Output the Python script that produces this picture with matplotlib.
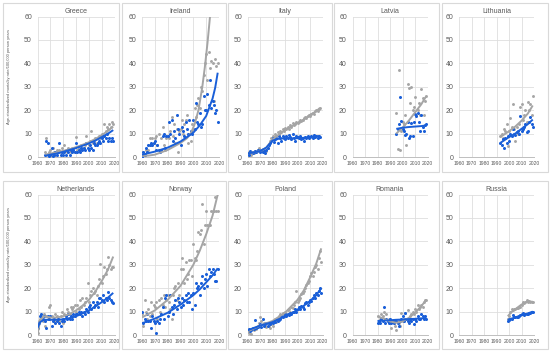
import numpy as np
import matplotlib
matplotlib.use('Agg')
import matplotlib.pyplot as plt
from matplotlib.patches import Rectangle

# ---- data ----
greece_start = 1966
greece_grey = [2, 8, 1, 2, 3, 1, 4, 2, 1, 3, 2, 3, 2, 4, 2, 5, 3, 2, 4, 3, 2, 4, 3, 2, 8.5,
               3, 4, 3, 5, 4, 4, 5, 9, 6, 5, 7, 11, 6, 7, 8, 6, 8, 9, 8, 10, 9, 14, 11, 13,
               12, 14, 13, 15, 14]
greece_blue = [1, 7, 6, 0.5, 1, 4, 0.5, 1, 2, 1, 2, 6, 1, 2, 1, 2, 1, 3, 2, 1, 3, 2, 3, 2, 6,
               2, 3, 2, 4, 3, 4, 3, 6, 4, 3, 5, 4, 3, 6, 5, 5, 6, 7, 6, 8, 7, 9, 8, 10, 7, 8,
               7, 8, 7]
greece_trend_years = [1966, 1970, 1975, 1980, 1985, 1990, 1995, 2000, 2005, 2010, 2015, 2019]
greece_grey_trend = [1, 1.5, 2, 2.6, 3.3, 4.2, 5.2, 6.3, 7.7, 9.3, 11.2, 13]
greece_blue_trend = [0.5, 1, 1.5, 2.2, 3, 3.8, 4.8, 5.8, 7, 8.5, 10, 11.5]

ireland_start = 1960
ireland_grey = [0, 2, 1, 3, 2, 3, 8, 5, 8, 6, 8, 9, 5, 10, 3, 8, 13, 5, 3, 8, 9, 8, 11, 17, 9,
                14, 6, 12, 2, 11, 12, 16, 10, 14, 16, 18, 6, 10, 7, 14, 12, 21, 17, 22, 25,
                21, 30, 28, 35, 40, 44, 33, 45, 38, 41, 40, 24, 42, 39, 40]
ireland_blue = [0, 2, 1, 4, 2, 5, 5, 6, 5, 6, 7, 3, 5, 3, 2, 3, 9, 10, 4, 9, 9, 15, 10, 16, 7,
                11, 8, 18, 12, 10, 5, 13, 11, 9, 15, 12, 10, 16, 11, 10, 16, 12, 23, 15, 14,
                19, 13, 14, 26, 20, 20, 27, 22, 33, 21, 24, 22, 19, 20, 15]
ireland_grey_trend_years = [1960, 1965, 1970, 1975, 1980, 1985, 1990, 1995, 1998, 2001, 2004,
                            2007, 2009, 2011, 2013]
ireland_grey_trend = [0.5, 0.6, 1, 2, 3, 4.5, 6, 8, 10, 14, 20, 30, 38.5, 48.5, 60]
ireland_blue_trend_years = [1960, 1970, 1980, 1990, 2000, 2005, 2010, 2015, 2017, 2019]
ireland_blue_trend = [1, 2.3, 4, 6.6, 10.4, 13.5, 17.5, 25, 29.5, 36]

italy_start = 1960
italy_grey = [1, 2, 1.5, 1, 2, 1.5, 2.5, 2, 3, 4, 3, 2.5, 3.5, 3, 2, 2.5, 4, 5.5, 7, 8, 9, 8.5,
              10, 9, 10.5, 10, 11, 10.5, 12, 11, 12.5, 12, 13, 12, 13.5, 13, 14.5, 13.5, 14, 15,
              14.5, 15, 16, 15.5, 16, 16.5, 17, 16.5, 17.5, 18, 17.5, 18.5, 19, 18.5, 19.5, 20,
              19.5, 20.5, 21]
italy_blue = [1.5, 1, 2.5, 2, 1.5, 2, 2.5, 2, 3, 2.5, 2, 3, 2, 2.5, 1.5, 3, 4, 5, 6, 7, 8, 6.5,
              7.5, 8, 6, 9, 8, 7, 9, 8, 7.5, 9, 8, 9.5, 8.5, 7.5, 10, 8, 7, 9, 8.5, 8, 9, 7.5,
              8, 7, 8.5, 8, 9, 8, 8.5, 9, 8, 9.5, 8.5, 9, 8, 9, 8.5]
italy_trend_years = [1960, 1965, 1970, 1975, 1980, 1985, 1990, 1995, 2000, 2005, 2010, 2015, 2018]
italy_grey_trend = [1.5, 2, 2.5, 4, 7.5, 9.5, 11.5, 13, 14.5, 16, 18, 19.5, 21]
italy_blue_trend = [1.5, 2, 2.5, 4, 7, 7.8, 8, 8, 8, 8.2, 8.5, 8.8, 9]

latvia_start = 1995
latvia_grey = [19, 3.5, 37, 3, 11, 15, 14, 18, 5, 31, 29.5, 23, 30, 20, 21.5, 25.5, 18, 20,
               23, 18, 29, 25, 18, 24, 26]
latvia_blue = [10, 12, 14, 25.5, 15.5, 12, 11, 9.5, 10, 15, 8, 9, 14.5, 9, 15, 18.5, 17.5, 19,
               15, 11, 18, 13, 11, 13.5, 14]
latvia_trend_years = [1995, 2000, 2005, 2010, 2015, 2019]
latvia_grey_trend = [10, 12.5, 15.5, 19, 22.5, 26]
latvia_blue_trend = [12, 12.5, 12.8, 13, 13.2, 13.5]

lithuania_start = 1993
lithuania_grey = [9, 10, 8, 12, 11, 14, 4.5, 11, 16.5, 13, 22.5, 12, 7, 13, 10, 14, 21.5, 22.5,
                  16, 18, 20, 15, 23.5, 20, 22.5, 18, 26]
lithuania_blue = [6, 5, 7.5, 4, 8, 6, 9, 7, 10, 9, 12, 10, 9.5, 10.5, 11, 10, 17.5, 11, 12, 13,
                  14, 10.5, 11, 15, 17, 14, 13]
lithuania_trend_years = [1993, 2000, 2005, 2010, 2015, 2019]
lithuania_grey_trend = [8.5, 11, 13, 15.5, 18.5, 22]
lithuania_blue_trend = [6, 8.5, 10, 12, 14, 16]

netherlands_start = 1960
netherlands_grey = [1, 6, 7, 8, 6, 9, 4, 8, 7, 12, 13, 8, 7, 6, 9, 8, 7, 6, 8, 10, 5, 9, 8, 11,
                    10, 9, 12, 11, 12, 13, 10, 13, 11, 15, 12, 16, 13, 14, 16, 22, 14, 17, 19,
                    20, 18, 19, 17, 21, 24, 30.5, 22, 25, 29, 26, 28, 33.5, 30, 28, 29, 29]
netherlands_blue = [3, 5, 8, 9, 7, 8, 6, 3, 8, 7, 8, 4, 6, 7, 5, 6, 7, 5, 4, 6, 7, 6, 8, 7, 9,
                    7, 8, 7, 9, 8, 9, 9, 10, 9, 10, 8, 10, 9, 11, 10, 12, 13, 11, 14, 12, 13, 14,
                    12, 16, 16, 15, 17, 14, 16, 15, 18.5, 16, 15, 14, 13.5]
netherlands_trend_years = [1960, 1962, 1965, 1970, 1975, 1980, 1985, 1990, 1995, 2000, 2005,
                           2010, 2015, 2019]
netherlands_grey_trend = [0, 6, 8, 7.5, 7.5, 8, 9, 10.5, 12.5, 15, 18.5, 23, 28, 33.5]
netherlands_blue_trend = [3, 5.5, 6.5, 6.5, 6.5, 6.7, 7.2, 8, 9.2, 10.5, 12.2, 14, 16, 18]

norway_start = 1960
norway_grey = [9, 4, 15, 10, 7, 11, 8, 14, 9, 13, 12, 14, 7, 15, 10, 16, 13, 17, 12, 15, 17, 14,
               11, 7, 17, 20, 21, 15, 22, 17, 28, 33, 28, 22, 31, 24, 26, 32, 32, 25, 39, 33,
               32, 36, 44, 43, 45, 56, 39, 47, 53, 47, 47, 47, 53, 53, 53, 59, 53, 53]
norway_blue = [10, 5, 7, 6, 9, 6, 6, 3, 8, 6, 5, 1, 6, 5, 7, 9, 12, 7, 16, 17, 8, 10, 17, 12, 9,
               13, 15, 11, 16, 14, 12, 16, 13, 15, 17, 14, 18, 14, 17, 11, 18, 13, 22, 20, 21,
               17, 22, 25, 20, 24, 26, 21, 28, 25, 27, 28, 26, 23, 23, 28]
norway_trend_years = [1960, 1970, 1980, 1990, 2000, 2005, 2010, 2015, 2019]
norway_grey_trend = [7.5, 10.5, 15, 21, 30, 36, 43, 51, 60]
norway_blue_trend = [5, 7, 9.5, 13, 17, 19.5, 22.5, 25.5, 28.5]

poland_start = 1960
poland_grey = [1.5, 1, 2, 0.5, 2.5, 2, 3, 2.5, 4, 5, 7.5, 6, 4.5, 5, 4, 3.5, 5, 4, 3, 4.5, 4, 6,
               7, 5.5, 7, 8, 9, 8.5, 9.5, 8, 10, 9, 10.5, 11, 10, 12, 11.5, 13, 14, 19, 14, 15,
               16, 17.5, 18, 19, 20, 21.5, 22, 23, 25, 26.5, 25, 27, 29, 30, 28, 33, 36, 31]
poland_blue = [2, 2.5, 1.5, 2, 3, 2.5, 6.5, 3, 3.5, 4, 4.5, 3.5, 7, 4, 4.5, 5, 4, 5, 4.5, 5.5,
               5, 6, 5.5, 7, 6, 6.5, 7, 8, 7.5, 8, 9, 8, 9, 8.5, 9.5, 9, 10, 10, 11, 10, 11, 12,
               11, 12.5, 12, 11, 13.5, 14, 13, 14, 15, 14.5, 16, 17, 16, 18, 17, 19, 20, 18]
poland_trend_years = [1960, 1970, 1980, 1990, 2000, 2005, 2010, 2015, 2019]
poland_grey_trend = [1.5, 4, 6, 9.5, 15, 19, 24.5, 30.5, 37]
poland_blue_trend = [2, 4, 5.5, 8, 10.5, 12.5, 14.5, 17, 20]

romania_start = 1980
romania_grey = [8, 6, 7, 9, 8, 10, 7, 9, 6, 7, 5, 3, 6, 5, 4, 2, 6, 5, 4, 9.5, 6, 7, 9.5, 7,
                10.5, 7, 8, 9, 10, 9, 11, 10, 13, 11, 12, 13, 12, 14, 15, 15]
romania_blue = [5, 6, 5, 7, 6, 12, 5, 7, 6, 5, 7, 5, 6, 5, 6, 6, 5, 4, 6, 7, 8, 6, 9.5, 7, 6, 5,
                7, 6, 7, 4.5, 7, 6, 8, 7, 7, 9, 8, 7, 8, 7]
romania_trend_years = [1980, 1985, 1990, 1995, 2000, 2005, 2010, 2015, 2019]
romania_grey_trend = [8, 7, 5.8, 5.2, 5.8, 7.3, 9.5, 12.3, 15]
romania_blue_trend = [6, 6.1, 6.3, 6.5, 6.6, 6.8, 6.9, 7.1, 7.2]

russia_start = 1999
russia_grey = [7, 8, 10, 11, 10.5, 11, 11, 11.5, 11.5, 12, 12, 13, 14, 13.5, 14, 15, 14, 14.5,
               14, 14, 14]
russia_blue = [6, 6.5, 7, 7, 8.5, 7.5, 7.5, 7.5, 7.5, 8, 8.5, 9, 9.5, 8.5, 9, 9, 9, 9.5, 9.5,
               10, 10]
russia_trend_years = [1999, 2002, 2005, 2010, 2015, 2019]
russia_grey_trend = [8, 9.8, 11, 13, 14.3, 14.2]
russia_blue_trend = [6.5, 7, 7.5, 8.5, 9.2, 10]

ytick_vals = [0, 10, 20, 30, 40, 50, 60]
xtick_vals = [1960, 1970, 1980, 1990, 2000, 2010, 2020]
ylabel_text = 'Age-standardized mortality rate/100,000 person years'

# ---- layout (pixels) ----
W, H = 550, 354
GREY = '#a5a5a5'
BLUE = '#1a5fd8'
TXT = '#595959'

plt.rcParams['font.family'] = ['Liberation Sans', 'DejaVu Sans']

fig = plt.figure(figsize=(W / 100, H / 100), dpi=100)

col_axes = [(37.5, 114.5), (142, 219), (247.5, 322.5), (352.5, 427.5), (459, 534)]
row_axes = [(16.5, 157), (194.5, 335)]
col_box = [(3, 119), (122, 226), (228, 332), (334, 439), (442, 548)]
row_box = [(3, 172), (181, 349)]


def draw_panel(r, c, title, start, grey, blue, ty_grey, g_trend, ty_blue, b_trend):
    bx0, bx1 = col_box[c]
    by0, by1 = row_box[r]
    fig.add_artist(Rectangle((bx0 / W, 1 - by1 / H), (bx1 - bx0) / W, (by1 - by0) / H,
                             transform=fig.transFigure, fill=False, ec='#d9d9d9', lw=0.8))
    x0, x1 = col_axes[c]
    y0, y1 = row_axes[r]
    ax = fig.add_axes([x0 / W, 1 - y1 / H, (x1 - x0) / W, (y1 - y0) / H])
    yrs_g = list(range(start, start + len(grey)))
    yrs_b = list(range(start, start + len(blue)))
    ax.plot(yrs_g, grey, 'o', color=GREY, ms=2.1, mew=0, zorder=3)
    ax.plot(yrs_b, blue, 'o', color=BLUE, ms=2.2, mew=0, zorder=3)
    ax.plot(ty_grey, g_trend, '-', color=GREY, lw=1.4, zorder=4, solid_capstyle='butt')
    ax.plot(ty_blue, b_trend, '-', color=BLUE, lw=1.4, zorder=4, solid_capstyle='butt')
    ax.set_xlim(1960, 2020)
    ax.set_ylim(0, 60)
    ax.set_xticks(xtick_vals)
    ax.set_yticks(ytick_vals)
    ax.grid(True, color='#dedede', lw=0.6)
    ax.set_axisbelow(True)
    for s in ['top', 'right', 'left']:
        ax.spines[s].set_visible(False)
    ax.spines['bottom'].set_color('#bfbfbf')
    ax.spines['bottom'].set_linewidth(0.7)
    ax.tick_params(axis='both', length=0, colors=TXT)
    ax.tick_params(axis='y', labelsize=5, pad=4)
    ax.tick_params(axis='x', labelsize=3.6, pad=3)
    fig.text((x0 + x1) / 2 / W, 1 - (y0 - 4.8) / H, title, ha='center', va='center',
             fontsize=5, color=TXT)
    if c == 0:
        fig.text(9.5 / W, 1 - ((y0 + y1) / 2 - 10) / H, ylabel_text, rotation=90,
                 ha='center', va='center', fontsize=2.9, color=TXT)
    return ax


draw_panel(0, 0, 'Greece', greece_start, greece_grey, greece_blue,
           greece_trend_years, greece_grey_trend, greece_trend_years, greece_blue_trend)
draw_panel(0, 1, 'Ireland', ireland_start, ireland_grey, ireland_blue,
           ireland_grey_trend_years, ireland_grey_trend, ireland_blue_trend_years, ireland_blue_trend)
draw_panel(0, 2, 'Italy', italy_start, italy_grey, italy_blue,
           italy_trend_years, italy_grey_trend, italy_trend_years, italy_blue_trend)
draw_panel(0, 3, 'Latvia', latvia_start, latvia_grey, latvia_blue,
           latvia_trend_years, latvia_grey_trend, latvia_trend_years, latvia_blue_trend)
draw_panel(0, 4, 'Lithuania', lithuania_start, lithuania_grey, lithuania_blue,
           lithuania_trend_years, lithuania_grey_trend, lithuania_trend_years, lithuania_blue_trend)
draw_panel(1, 0, 'Netherlands', netherlands_start, netherlands_grey, netherlands_blue,
           netherlands_trend_years, netherlands_grey_trend, netherlands_trend_years, netherlands_blue_trend)
draw_panel(1, 1, 'Norway', norway_start, norway_grey, norway_blue,
           norway_trend_years, norway_grey_trend, norway_trend_years, norway_blue_trend)
draw_panel(1, 2, 'Poland', poland_start, poland_grey, poland_blue,
           poland_trend_years, poland_grey_trend, poland_trend_years, poland_blue_trend)
draw_panel(1, 3, 'Romania', romania_start, romania_grey, romania_blue,
           romania_trend_years, romania_grey_trend, romania_trend_years, romania_blue_trend)
draw_panel(1, 4, 'Russia', russia_start, russia_grey, russia_blue,
           russia_trend_years, russia_grey_trend, russia_trend_years, russia_blue_trend)

fig.savefig('out.png', dpi=100, facecolor='white')
